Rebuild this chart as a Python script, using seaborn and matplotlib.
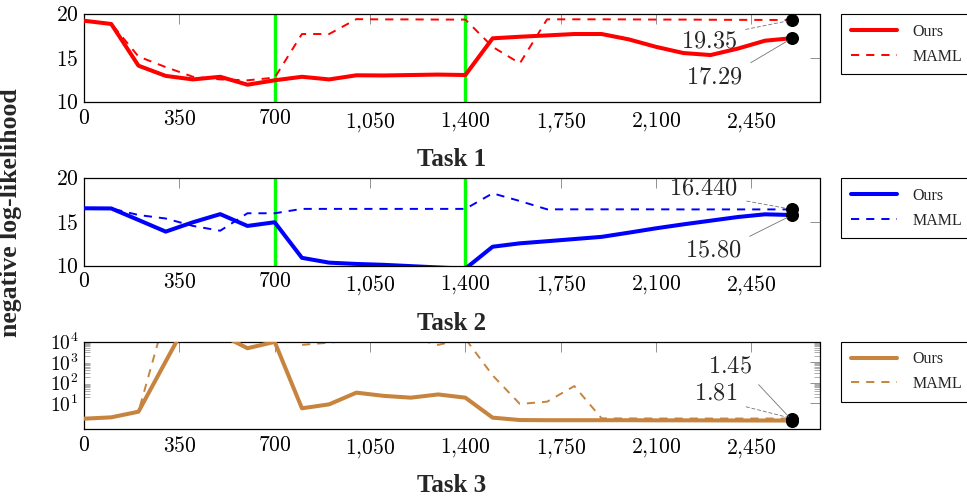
import numpy as np
import matplotlib
matplotlib.use("Agg")
import matplotlib.pyplot as plt
import matplotlib.ticker as mticker
import seaborn as sns

# ---------------------------------------------------------------------------
# Data
# ---------------------------------------------------------------------------
steps = [0, 100, 200, 300, 400, 500, 600, 700, 800, 900, 1000, 1100, 1200, 1300,
         1400, 1500, 1600, 1700, 1800, 1900, 2000, 2100, 2200, 2300, 2400, 2500, 2600]
task_switch = [700, 1400]

task1_ours = [19.27, 18.9, 14.16, 13.0, 12.6, 12.9, 12.0, 12.5, 12.9, 12.6, 13.07, 13.05,
              13.1, 13.15, 13.1, 17.27, 17.45, 17.6, 17.76, 17.76, 17.15, 16.3, 15.6,
              15.37, 16.1, 17.0, 17.29]
task1_maml = [19.3, 18.95, 15.2, 14.0, 12.9, 12.6, 12.5, 12.8, 17.76, 17.76, 19.45, 19.42,
              19.42, 19.4, 19.4, 16.3, 14.43, 19.43, 19.43, 19.43, 19.42, 19.4, 19.4,
              19.38, 19.37, 19.36, 19.35]

task2_ours = [16.57, 16.55, 15.23, 13.9, 14.97, 15.9, 14.55, 14.97, 10.9, 10.35, 10.2, 10.1,
              9.95, 9.8, 9.66, 12.17, 12.56, 12.8, 13.05, 13.3, 13.78, 14.28, 14.73, 15.15,
              15.57, 15.88, 15.80]
task2_maml = [16.57, 16.55, 15.8, 15.4, 14.55, 14.0, 16.0, 16.0, 16.5, 16.5, 16.5, 16.5,
              16.5, 16.5, 16.5, 18.28, 17.4, 16.45, 16.45, 16.45, 16.45, 16.45, 16.44,
              16.44, 16.44, 16.44, 16.44]

task3_ours = [1.78, 2.07, 3.9, 1100, 3e5, 2.3e4, 4800, 9800, 5.7, 8.9, 33, 23, 18.8, 27,
              18.8, 2.0, 1.53, 1.5, 1.5, 1.5, 1.5, 1.48, 1.48, 1.47, 1.46, 1.45, 1.45]
task3_maml = [1.78, 2.07, 3.9, 2e5, 5e5, 3e5, 2e5, 1e5, 7000, 9000, 1.2e4, 2e4, 1.6e4,
              7000, 1.4e4, 230, 9.3, 12, 69, 1.85, 1.83, 1.82, 1.82, 1.81, 1.81, 1.81, 1.81]

task_names = ["Task 1", "Task 2", "Task 3"]
ours_series = [task1_ours, task2_ours, task3_ours]
maml_series = [task1_maml, task2_maml, task3_maml]
colours = ["#ff0000", "#0000ff", "#c6843f"]
x_ticks = [0, 350, 700, 1050, 1400, 1750, 2100, 2450]

# annotation labels and offsets (points) for (ours, maml)
ann_text = [("17.29", "19.35"), ("15.80", "16.440"), ("1.45", "1.81")]
ann_offset = [((-56, -28.7), (-60, -15.6)),
              ((-57, -25.9), (-63.7, 14.7)),
              ((-45, 38.7), (-55, 17.6))]
ann_relpos = [((1, 1), (1, 1)), ((1, 1), (1, 0)), ((1, 0), (1, 0))]

# ---------------------------------------------------------------------------
# Style
# ---------------------------------------------------------------------------
sns.set_style("white")
plt.rcParams["font.family"] = ["Liberation Serif", "DejaVu Serif"]
plt.rcParams["mathtext.fontset"] = "cm"

W, H = 967, 497
fig = plt.figure(figsize=(W / 100, H / 100), dpi=100)

# axes boxes in pixels: left, top, right, bottom
boxes = [(84, 14.3, 819.5, 102.3), (84, 178.3, 819.5, 265.7), (84, 341.7, 819.5, 429)]
title_y = [160, 323, 486]


def fmt_x(v, _):
    return "$" + f"{int(round(v)):,}".replace(",", "{,}") + "$"


for i, (l, t, r, b) in enumerate(boxes):
    ax = fig.add_axes([l / W, 1 - b / H, (r - l) / W, (b - t) / H])
    c = colours[i]

    if i < 2:
        for s in task_switch:
            ax.axvline(s, color="#00ff00", lw=2.4, zorder=1)

    sns.lineplot(x=steps, y=maml_series[i], ax=ax, color=c, lw=1.4,
                 linestyle=(0, (4.2, 3.6)), label="MAML", zorder=2)
    sns.lineplot(x=steps, y=ours_series[i], ax=ax, color=c, lw=2.9,
                 label="Ours", zorder=3)

    # end-point markers
    ax.scatter([steps[-1], steps[-1]], [ours_series[i][-1], maml_series[i][-1]],
               s=70, color="black", zorder=5, clip_on=False)

    # value annotations
    for j, (ser, ls) in enumerate([(ours_series[i], "-"), (maml_series[i], (0, (4, 3)))]):
        ax.annotate(f"${ann_text[i][j]}$", xy=(steps[-1], ser[-1]),
                    xytext=ann_offset[i][j], textcoords="offset points",
                    ha="center", va="center", fontsize=17.5, zorder=6,
                    arrowprops=dict(arrowstyle="-", color="0.45", lw=0.6, ls=ls,
                                    relpos=ann_relpos[i][j], shrinkA=4, shrinkB=4))

    ax.set_xlim(0, 2700)
    ax.set_xticks(x_ticks)
    ax.xaxis.set_major_formatter(mticker.FuncFormatter(fmt_x))

    ax.tick_params(axis="both", which="major", direction="in", length=7.5, width=0.6,
                   color="0.5", top=True, right=True, labelsize=15.5, labelcolor="black")
    ax.tick_params(axis="x", pad=5.5)
    ax.tick_params(axis="y", pad=4)

    if i < 2:
        ax.set_ylim(10, 20)
        ax.set_yticks([10, 15, 20])
        ax.yaxis.set_major_formatter(mticker.FuncFormatter(lambda v, _: f"${int(v)}$"))
    else:
        ax.set_yscale("log")
        ax.set_ylim(0.56, 1e4)
        ax.yaxis.set_major_locator(mticker.FixedLocator([10, 100, 1000, 10000]))
        ax.yaxis.set_major_formatter(
            mticker.FuncFormatter(lambda v, _: f"$10^{{{int(round(np.log10(v)))}}}$"))
        minors = [m * 10 ** k for k in range(1, 4) for m in range(2, 10)]
        ax.yaxis.set_minor_locator(mticker.FixedLocator(minors))
        ax.yaxis.set_minor_formatter(mticker.NullFormatter())
        ax.tick_params(axis="y", which="minor", direction="in", length=4.5,
                       width=0.5, color="0.55", left=True, right=True)
        ax.tick_params(axis="y", which="major", labelsize=14)

    ax.set_xlabel("")
    ax.set_ylabel("")
    for sp in ax.spines.values():
        sp.set_color("black")
        sp.set_linewidth(0.9)

    handles, labels = ax.get_legend_handles_labels()
    order = [labels.index("Ours"), labels.index("MAML")]
    leg = ax.legend([handles[k] for k in order], [labels[k] for k in order],
                    loc="upper left", bbox_to_anchor=(1.0295, 1.0), borderaxespad=0,
                    frameon=True, fancybox=False, edgecolor="black", framealpha=1,
                    fontsize=11.5, handlelength=2.9, handletextpad=0.95,
                    labelspacing=0.55, borderpad=0.6)
    leg.get_frame().set_linewidth(0.8)

    fig.text((l + r) / 2 / W, 1 - title_y[i] / H, task_names[i], ha="center",
             va="center", fontsize=18, fontweight="bold")

fig.text(11 / W, 1 - 213 / H, "negative log-likelihood", rotation=90, ha="center",
         va="center", fontsize=18.5, fontweight="bold")

fig.savefig("out.png", dpi=100)
plt.close(fig)
